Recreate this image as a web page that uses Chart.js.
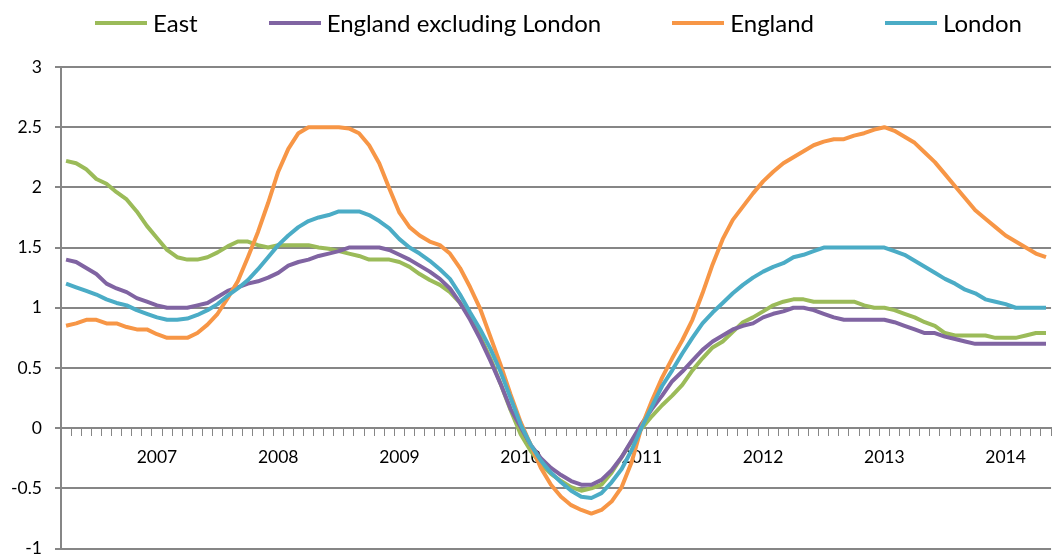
<!DOCTYPE html>
<html>
<head>
<meta charset="utf-8">
<title>East / England / London</title>
<script src="https://cdn.jsdelivr.net/npm/chart.js@4.4.1/dist/chart.umd.min.js"></script>
<style>
  html, body { margin: 0; padding: 0; background: #fff; overflow: hidden; }
  #wrap { position: relative; width: 1053px; height: 554px; overflow: hidden; }
  #chart { position: absolute; left: 0; top: 0; }
  #legend {
    position: absolute; left: 61px; top: 1px; width: 995px; height: 44px;
    display: flex; justify-content: center; align-items: center; gap: 71px;
    font-family: Lato, sans-serif; font-size: 24px; color: #000; z-index: 2;
  }
  .item { display: flex; align-items: center; white-space: nowrap; line-height: 44px; }
  .item .line { width: 52px; height: 4px; margin-right: 6px; }
</style>
</head>
<body>
<div id="wrap">
  <div id="legend"></div>
  <canvas id="chart" width="1058" height="572"></canvas>
</div>
<script>
// data (monthly, Apr 2006 - May 2014)

const east = [
  2.22, 2.20, 2.15, 2.07, 2.03, 1.96, 1.90, 1.80, 1.68, 1.58,
  1.48, 1.42, 1.40, 1.40, 1.42, 1.46, 1.51, 1.55, 1.55, 1.52,
  1.50, 1.52, 1.52, 1.52, 1.52, 1.50, 1.49, 1.47, 1.45, 1.43,
  1.40, 1.40, 1.40, 1.38, 1.34, 1.28, 1.23, 1.19, 1.13, 1.04,
  0.92, 0.76, 0.58, 0.37, 0.15, -0.05, -0.19, -0.30, -0.38, -0.44,
  -0.49, -0.52, -0.50, -0.47, -0.37, -0.24, -0.11, 0.00, 0.10, 0.19,
  0.27, 0.36, 0.48, 0.58, 0.67, 0.72, 0.80, 0.88, 0.92, 0.97,
  1.02, 1.05, 1.07, 1.07, 1.05, 1.05, 1.05, 1.05, 1.05, 1.02,
  1.00, 1.00, 0.98, 0.95, 0.92, 0.88, 0.85, 0.79, 0.77, 0.77,
  0.77, 0.77, 0.75, 0.75, 0.75, 0.77, 0.79, 0.79
];

const englandExLondon = [
  1.40, 1.38, 1.33, 1.28, 1.20, 1.16, 1.13, 1.08, 1.05, 1.02,
  1.00, 1.00, 1.00, 1.02, 1.04, 1.09, 1.14, 1.17, 1.20, 1.22,
  1.25, 1.29, 1.35, 1.38, 1.40, 1.43, 1.45, 1.47, 1.50, 1.50,
  1.50, 1.50, 1.48, 1.44, 1.40, 1.35, 1.30, 1.24, 1.16, 1.04,
  0.90, 0.74, 0.56, 0.37, 0.16, 0.01, -0.14, -0.25, -0.33, -0.39,
  -0.44, -0.47, -0.47, -0.43, -0.35, -0.24, -0.10, 0.04, 0.16, 0.27,
  0.39, 0.47, 0.56, 0.65, 0.72, 0.77, 0.82, 0.85, 0.87, 0.92,
  0.95, 0.97, 1.00, 1.00, 0.98, 0.95, 0.92, 0.90, 0.90, 0.90,
  0.90, 0.90, 0.88, 0.85, 0.82, 0.79, 0.79, 0.76, 0.74, 0.72,
  0.70, 0.70, 0.70, 0.70, 0.70, 0.70, 0.70, 0.70
];

const england = [
  0.85, 0.87, 0.90, 0.90, 0.87, 0.87, 0.84, 0.82, 0.82, 0.78,
  0.75, 0.75, 0.75, 0.79, 0.86, 0.95, 1.08, 1.22, 1.42, 1.63,
  1.87, 2.13, 2.32, 2.45, 2.50, 2.50, 2.50, 2.50, 2.49, 2.45,
  2.35, 2.20, 1.99, 1.79, 1.67, 1.60, 1.55, 1.52, 1.45, 1.33,
  1.17, 0.99, 0.76, 0.53, 0.28, 0.05, -0.14, -0.33, -0.47, -0.57,
  -0.64, -0.68, -0.71, -0.68, -0.61, -0.49, -0.28, 0.02, 0.23, 0.42,
  0.58, 0.73, 0.90, 1.12, 1.36, 1.57, 1.73, 1.84, 1.95, 2.05,
  2.13, 2.20, 2.25, 2.30, 2.35, 2.38, 2.40, 2.40, 2.43, 2.45,
  2.48, 2.50, 2.47, 2.42, 2.37, 2.29, 2.21, 2.11, 2.01, 1.91,
  1.81, 1.74, 1.67, 1.60, 1.55, 1.50, 1.45, 1.42
];

const london = [
  1.20, 1.17, 1.14, 1.11, 1.07, 1.04, 1.02, 0.98, 0.95, 0.92,
  0.90, 0.90, 0.91, 0.94, 0.98, 1.03, 1.10, 1.16, 1.23, 1.32,
  1.42, 1.52, 1.60, 1.67, 1.72, 1.75, 1.77, 1.80, 1.80, 1.80,
  1.77, 1.72, 1.66, 1.57, 1.50, 1.45, 1.39, 1.32, 1.24, 1.11,
  0.96, 0.82, 0.66, 0.47, 0.25, 0.03, -0.14, -0.27, -0.37, -0.45,
  -0.52, -0.57, -0.58, -0.54, -0.45, -0.34, -0.18, 0.01, 0.18, 0.35,
  0.48, 0.62, 0.75, 0.87, 0.96, 1.04, 1.12, 1.19, 1.25, 1.30,
  1.34, 1.37, 1.42, 1.44, 1.47, 1.50, 1.50, 1.50, 1.50, 1.50,
  1.50, 1.50, 1.47, 1.44, 1.39, 1.34, 1.29, 1.24, 1.20, 1.15,
  1.12, 1.07, 1.05, 1.03, 1.00, 1.00, 1.00, 1.00
];

// categories: one per month, only january gets its year shown
const startYear = 2006;
const startMonth = 4;
const months = [];
for (let i = 0; i < east.length; i++) {
  const m = startMonth - 1 + i;
  months.push(`${startYear + Math.floor(m / 12)}-${String(m % 12 + 1).padStart(2, '0')}`);
}

const yTicks = { min: -1, max: 3, step: 0.5 };

const gridColor = '#868686';

Chart.defaults.font.family = 'Lato';
Chart.defaults.color = '#000';

const series = [
  { label: 'East', data: east, color: '#9BBB59' },
  { label: 'England excluding London', data: englandExLondon, color: '#8064A2' },
  { label: 'England', data: england, color: '#F79646' },
  { label: 'London', data: london, color: '#4BACC6' },
];

const ctx = document.getElementById('chart').getContext('2d');
const chart = new Chart(ctx, {
  type: 'line',
  data: {
    labels: months,
    // excel draws the last series on top, chart.js draws lowest order on top
    datasets: series.map((s, i) => ({
      label: s.label,
      data: s.data,
      borderColor: s.color,
      backgroundColor: s.color,
      borderWidth: 4,
      borderJoinStyle: 'round',
      pointRadius: 0,
      tension: 0,
      fill: false,
      order: series.length - 1 - i,
    })),
  },
  options: {
    responsive: false,
    animation: false,
    layout: { padding: { top: 67, right: 2, bottom: 13, left: 0 } },
    plugins: {
      legend: { display: false },
      tooltip: { enabled: false },
    },
    scales: {
      x: {
        type: 'category',
        offset: true,
        position: { y: 0 },
        grid: { offset: true, drawOnChartArea: false, tickLength: 7, color: gridColor, lineWidth: 1 },
        border: { color: gridColor, width: 2 },
        ticks: {
          autoSkip: false,
          maxRotation: 0,
          padding: 12,
          font: { size: 17.5 },
          callback: function (value) {
            const m = this.getLabelForValue(value);
            return m.endsWith('-01') ? m.slice(0, 4) : '';
          },
        },
      },
      y: {
        min: yTicks.min,
        max: yTicks.max,
        ticks: {
          stepSize: yTicks.step,
          padding: 13,
          font: { size: 17.5 },
          callback: (v) => String(v),
        },
        grid: { color: gridColor, lineWidth: 2, tickLength: 6 },
        border: { color: gridColor, width: 2 },
        afterFit: (scale) => { scale.width = 61; },
      },
    },
  },
});

// legend as html, same order as the series
const legendBox = document.getElementById('legend');
chart.data.datasets.forEach((ds) => {
  const item = document.createElement('div');
  item.className = 'item';
  const line = document.createElement('span');
  line.className = 'line';
  line.style.background = ds.borderColor;
  const text = document.createElement('span');
  text.textContent = ds.label;
  item.appendChild(line);
  item.appendChild(text);
  legendBox.appendChild(item);
});
</script>
</body>
</html>
